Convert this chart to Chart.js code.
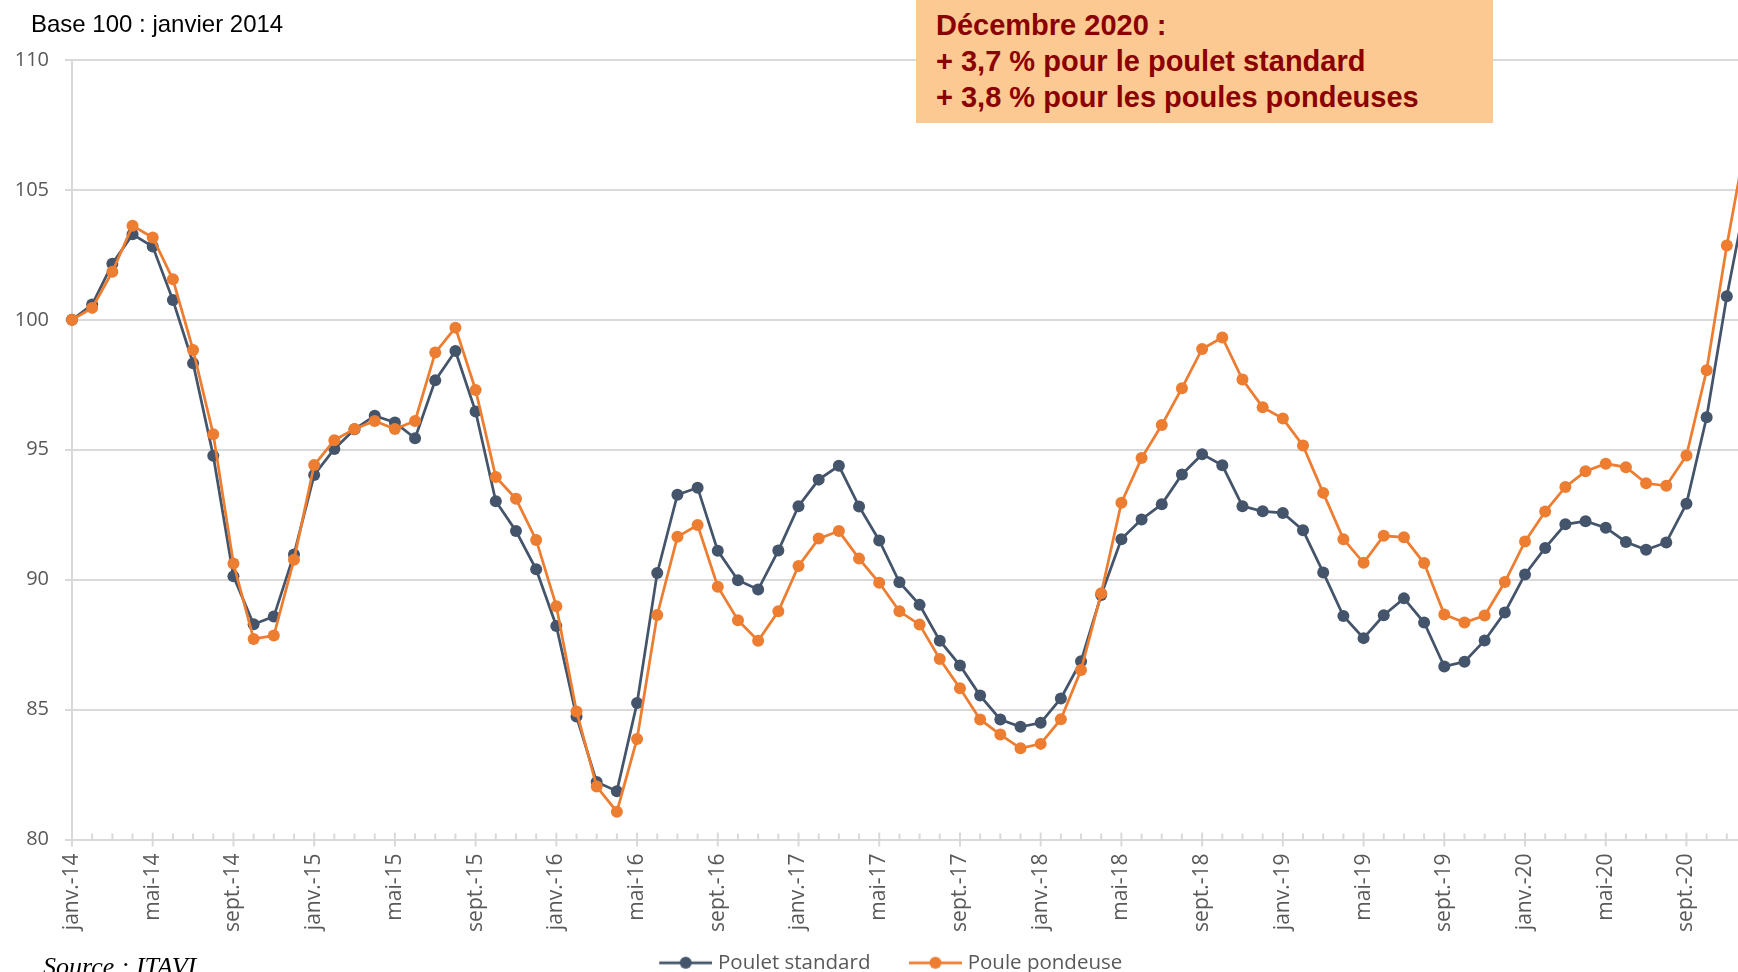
<!DOCTYPE html>
<html lang="fr">
<head>
<meta charset="utf-8">
<script src="https://cdn.jsdelivr.net/npm/chart.js@4.4.1/dist/chart.umd.min.js"></script>
<style>
  html, body { margin: 0; padding: 0; width: 1738px; height: 972px; overflow: hidden; background: #fff; }
  #chart { position: absolute; left: 0; top: 0; }
  #base { position: absolute; left: 31px; top: 12px; font: 24px/24px "Liberation Sans", Arial, sans-serif; color: #000; }
  #note { position: absolute; left: 916px; top: 0; width: 577px; height: 123px; box-sizing: border-box; padding: 7px 0 0 20px;
          background: #fcc993; color: #8b0000; font: bold 29px/36px "Liberation Sans", Arial, sans-serif; white-space: nowrap; }
  #source { position: absolute; left: 43px; top: 954px; font: italic 26px/26px "Liberation Serif", "Times New Roman", serif; color: #000; }
</style>
</head>
<body>
<canvas id="chart" width="1753" height="983"></canvas>
<div id="base">Base 100 : janvier 2014</div>
<div id="note">Décembre 2020 :<br>+ 3,7 % pour le poulet standard<br>+ 3,8 % pour les poules pondeuses</div>
<div id="source">Source : ITAVI</div>
<script>
// mois et années de l'axe
const moisCourts = ['janv.', 'févr.', 'mars', 'avr.', 'mai', 'juin', 'juil.', 'août', 'sept.', 'oct.', 'nov.', 'déc.']
const annees = ['14', '15', '16', '17', '18', '19', '20']

// indices base 100 janvier 2014
const pouletStandard = [
    100.0, 100.59, 102.16, 103.29, 102.82, 100.76, 98.33, 94.77, 90.13, 88.28, 88.58, 90.97,
    94.03, 95.03, 95.79, 96.31, 96.05, 95.44, 97.67, 98.80, 96.47, 93.02, 91.87, 90.40,
    88.22, 84.73, 82.21, 81.86, 85.25, 90.26, 93.27, 93.54, 91.11, 89.98, 89.62, 91.12,
    92.83, 93.85, 94.38, 92.82, 91.51, 89.90, 89.03, 87.65, 86.70, 85.54, 84.62, 84.34,
    84.49, 85.43, 86.86, 89.41, 91.56, 92.32, 92.90, 94.05, 94.83, 94.40, 92.83, 92.63,
    92.57, 91.90, 90.28, 88.60, 87.75, 88.63, 89.28, 88.35, 86.66, 86.84, 87.66, 88.74,
    90.20, 91.22, 92.13, 92.25, 92.00, 91.45, 91.15, 91.43, 92.92, 96.25, 100.91, 104.9
]
const poulePondeuse = [
    100.0, 100.46, 101.85, 103.62, 103.17, 101.56, 98.84, 95.60, 90.62, 87.72, 87.85, 90.77,
    94.41, 95.37, 95.80, 96.11, 95.80, 96.11, 98.74, 99.70, 97.30, 93.95, 93.11, 91.53,
    88.98, 84.93, 82.04, 81.07, 83.87, 88.64, 91.65, 92.10, 89.73, 88.44, 87.65, 88.78,
    90.53, 91.58, 91.87, 90.81, 89.88, 88.78, 88.27, 86.95, 85.82, 84.62, 84.04, 83.51,
    83.68, 84.63, 86.52, 89.48, 92.96, 94.68, 95.95, 97.37, 98.88, 99.32, 97.70, 96.64,
    96.20, 95.16, 93.34, 91.56, 90.65, 91.69, 91.63, 90.64, 88.66, 88.35, 88.62, 89.91,
    91.47, 92.62, 93.57, 94.17, 94.46, 94.33, 93.71, 93.61, 94.78, 98.06, 102.86, 107.1
]

const yMin = 80
const yMax = 110
const yStep = 5

const mois = []
for (let a of annees) {
    for (let m of moisCourts) {
        mois.push(m + '-' + a)
    }
}

const bleu = '#44546a'
const orange = '#ed7d31'
const gris = '#d9d9d9'
const police = "'Open Sans', sans-serif"

// symbole trait + rond pour la légende (le blanc à gauche sert d'espacement)
function symbole(couleur) {
    const c = document.createElement('canvas')
    c.width = 86
    c.height = 14
    const g = c.getContext('2d')
    g.strokeStyle = couleur
    g.lineWidth = 2.75
    g.beginPath()
    g.moveTo(33, 7)
    g.lineTo(86, 7)
    g.stroke()
    g.fillStyle = couleur
    g.beginPath()
    g.arc(59.5, 7, 6, 0, Math.PI * 2)
    g.fill()
    return c
}
const symboles = [symbole(bleu), symbole(orange)]

// graduations mineures / majeures de l'axe des mois
const graduations = {
    id: 'graduations',
    beforeDatasetsDraw(chart) {
        const { ctx, chartArea, scales: { x } } = chart
        ctx.save()
        ctx.strokeStyle = gris
        ctx.lineWidth = 2
        mois.forEach((m, i) => {
            const px = x.getPixelForValue(i)
            ctx.beginPath()
            if (i % 4 === 0) {
                ctx.moveTo(px, chartArea.bottom - 7)
                ctx.lineTo(px, chartArea.bottom + 7)
            } else {
                ctx.moveTo(px, chartArea.bottom - 6)
                ctx.lineTo(px, chartArea.bottom)
            }
            ctx.stroke()
        })
        ctx.restore()
    }
}

const serie = (label, data, couleur, order) => ({
    label: label,
    data: data,
    borderColor: couleur,
    backgroundColor: couleur,
    pointBackgroundColor: couleur,
    pointBorderColor: couleur,
    pointBorderWidth: 0,
    pointRadius: 6,
    borderWidth: 2.75,
    tension: 0,
    order: order
})

const chart = new Chart(document.getElementById('chart').getContext('2d'), {
    type: 'line',
    data: {
        labels: mois,
        datasets: [
            serie('Poulet standard', pouletStandard, bleu, 1),
            serie('Poule pondeuse', poulePondeuse, orange, 0)
        ]
    },
    options: {
        responsive: false,
        animation: false,
        events: [],
        layout: { padding: { left: 0, right: 0, top: 60, bottom: 0 } },
        scales: {
            x: {
                grid: { display: false, drawTicks: false },
                border: { display: true, color: gris, width: 2 },
                ticks: {
                    autoSkip: false,
                    minRotation: 90,
                    maxRotation: 90,
                    padding: 14,
                    color: '#595959',
                    font: { family: police, size: 21 },
                    callback: (v, i) => i % 4 === 0 ? mois[i] : ''
                },
                afterFit: s => {
                    s.height = 103
                    s.paddingLeft = 0
                    s.paddingRight = 0
                }
            },
            y: {
                min: yMin,
                max: yMax,
                ticks: { stepSize: yStep, padding: 16, color: '#595959', font: { family: police, size: 20 } },
                grid: { color: gris, lineWidth: 2, tickLength: 7 },
                border: { display: true, color: gris, width: 2 },
                afterFit: s => { s.width = 72 }
            },
            // axe vide à droite : laisse la légende centrée comme sur l'original
            marge: {
                type: 'linear',
                position: 'right',
                grid: { display: false, drawTicks: false },
                border: { display: false },
                ticks: { display: false },
                afterFit: s => { s.width = 1 }
            }
        },
        plugins: {
            legend: {
                position: 'bottom',
                labels: {
                    usePointStyle: true,
                    pointStyleWidth: 77,
                    boxHeight: 14,
                    padding: 10,
                    color: '#595959',
                    font: { family: police, size: 20.5 },
                    sort: (a, b) => a.datasetIndex - b.datasetIndex,
                    generateLabels: chart => Chart.defaults.plugins.legend.labels.generateLabels(chart).map(item => {
                        item.pointStyle = symboles[item.datasetIndex]
                        return item
                    })
                }
            },
            tooltip: { enabled: false }
        }
    },
    plugins: [graduations]
})
</script>
</body>
</html>
